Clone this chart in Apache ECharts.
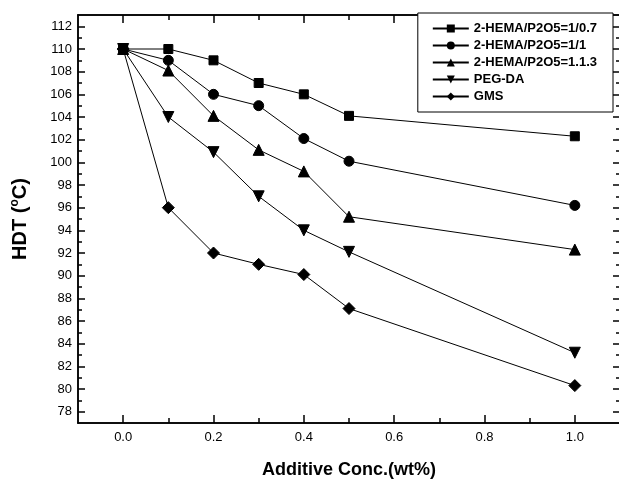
<!DOCTYPE html>
<html>
<head>
<meta charset="utf-8">
<script src="https://cdn.jsdelivr.net/npm/echarts@6/dist/echarts.min.js"></script>
<style>
  html, body { margin: 0; padding: 0; background: #fff; }
  #chart { width: 619px; height: 481px; }
</style>
</head>
<body>
<div id="chart"></div>
<script>
const concentrations = [0, 0.1, 0.2, 0.3, 0.4, 0.5, 1.0];
const hemaRatio07 = [110, 110, 109, 107, 106, 104.1, 102.3];
const hemaRatio1 = [110, 109, 106, 105, 102.1, 100.1, 96.2];
const hemaRatio13 = [110, 108.1, 104.1, 101.1, 99.2, 95.2, 92.3];
const pegDa = [110, 104, 100.9, 97, 94, 92.1, 83.2];
const gms = [110, 96, 92, 91, 90.1, 87.1, 80.3];

const seriesNames = ["2-HEMA/P2O5=1/0.7", "2-HEMA/P2O5=1/1", "2-HEMA/P2O5=1.1.3", "PEG-DA", "GMS"];
const xMajorTicks = [0, 0.2, 0.4, 0.6, 0.8, 1.0];
const xMinorTicks = [0.1, 0.3, 0.5, 0.7, 0.9];
const yMajorTicks = [78, 80, 82, 84, 86, 88, 90, 92, 94, 96, 98, 100, 102, 104, 106, 108, 110, 112];
const yMinorTicks = [79, 81, 83, 85, 87, 89, 91, 93, 95, 97, 99, 101, 103, 105, 107, 109, 111];

const font = "Liberation Sans, Arial, sans-serif";

function pairs(values) {
  return concentrations.map((x, i) => [x, values[i]]);
}

function tickAxis(position, min, max, ticks, length, extra = {}) {
  return Object.assign({
    type: "value",
    position,
    min,
    max,
    splitLine: { show: false },
    axisLine: { show: true, onZero: false, lineStyle: { color: "#000", width: 1.5 } },
    axisTick: { show: true, inside: true, length, customValues: ticks, lineStyle: { color: "#000", width: 1.5 } },
    axisLabel: { show: false },
  }, extra);
}

const chart = echarts.init(document.getElementById("chart"));

const symbols = ["rect", "circle", "triangle", "path://M0,0 L10,0 L5,10 Z", "diamond"];
const sizes = [9, 10, 11, 11, 12];
const data = [hemaRatio07, hemaRatio1, hemaRatio13, pegDa, gms];

chart.setOption({
  animation: false,
  textStyle: { fontFamily: font },
  grid: { left: 78, right: -1, top: 15, bottom: 58, outerBoundsMode: "none", containLabel: false },
  legend: {
    orient: "vertical",
    right: 6,
    top: 13,
    padding: [9, 16, 9, 14],
    itemWidth: 36,
    itemHeight: 10,
    itemGap: 4,
    borderColor: "#000",
    borderWidth: 1,
    backgroundColor: "#fff",
    textStyle: { fontFamily: font, fontWeight: "bold", fontSize: 13, color: "#000" },
    data: seriesNames,
  },
  xAxis: [
    tickAxis("bottom", -0.1, 1.1, xMajorTicks, 8, {
      name: "Additive Conc.(wt%)",
      nameLocation: "middle",
      nameGap: 38,
      nameTextStyle: { fontFamily: font, fontWeight: "bold", fontSize: 18, color: "#000" },
      axisLabel: {
        show: true,
        customValues: xMajorTicks,
        formatter: v => v.toFixed(1),
        margin: 8,
        fontFamily: font,
        fontSize: 13,
        color: "#000",
      },
    }),
    tickAxis("bottom", -0.1, 1.1, xMinorTicks, 5),
    tickAxis("top", -0.1, 1.1, xMajorTicks, 8),
    tickAxis("top", -0.1, 1.1, xMinorTicks, 5),
  ],
  yAxis: [
    tickAxis("left", 77, 113, yMajorTicks, 7, {
      name: "HDT ({sup|o}C)",
      nameLocation: "middle",
      nameGap: 47,
      nameRotate: 90,
      nameTextStyle: {
        fontFamily: font,
        fontWeight: "bold",
        fontSize: 20,
        color: "#000",
        rich: { sup: { fontFamily: font, fontWeight: "bold", fontSize: 12, color: "#000", padding: [0, 0, 10, 0] } },
      },
      axisLabel: {
        show: true,
        customValues: yMajorTicks,
        margin: 6,
        fontFamily: font,
        fontSize: 13,
        color: "#000",
      },
    }),
    tickAxis("left", 77, 113, yMinorTicks, 4),
    tickAxis("right", 77, 113, yMajorTicks, 7),
    tickAxis("right", 77, 113, yMinorTicks, 4),
  ],
  series: seriesNames.map((name, i) => ({
    name,
    type: "line",
    xAxisIndex: 0,
    yAxisIndex: 0,
    data: pairs(data[i]),
    symbol: symbols[i],
    symbolSize: sizes[i],
    showAllSymbol: true,
    lineStyle: { color: "#000", width: 1 },
    itemStyle: { color: "#000", borderColor: "#000" },
  })),
});
</script>
</body>
</html>
